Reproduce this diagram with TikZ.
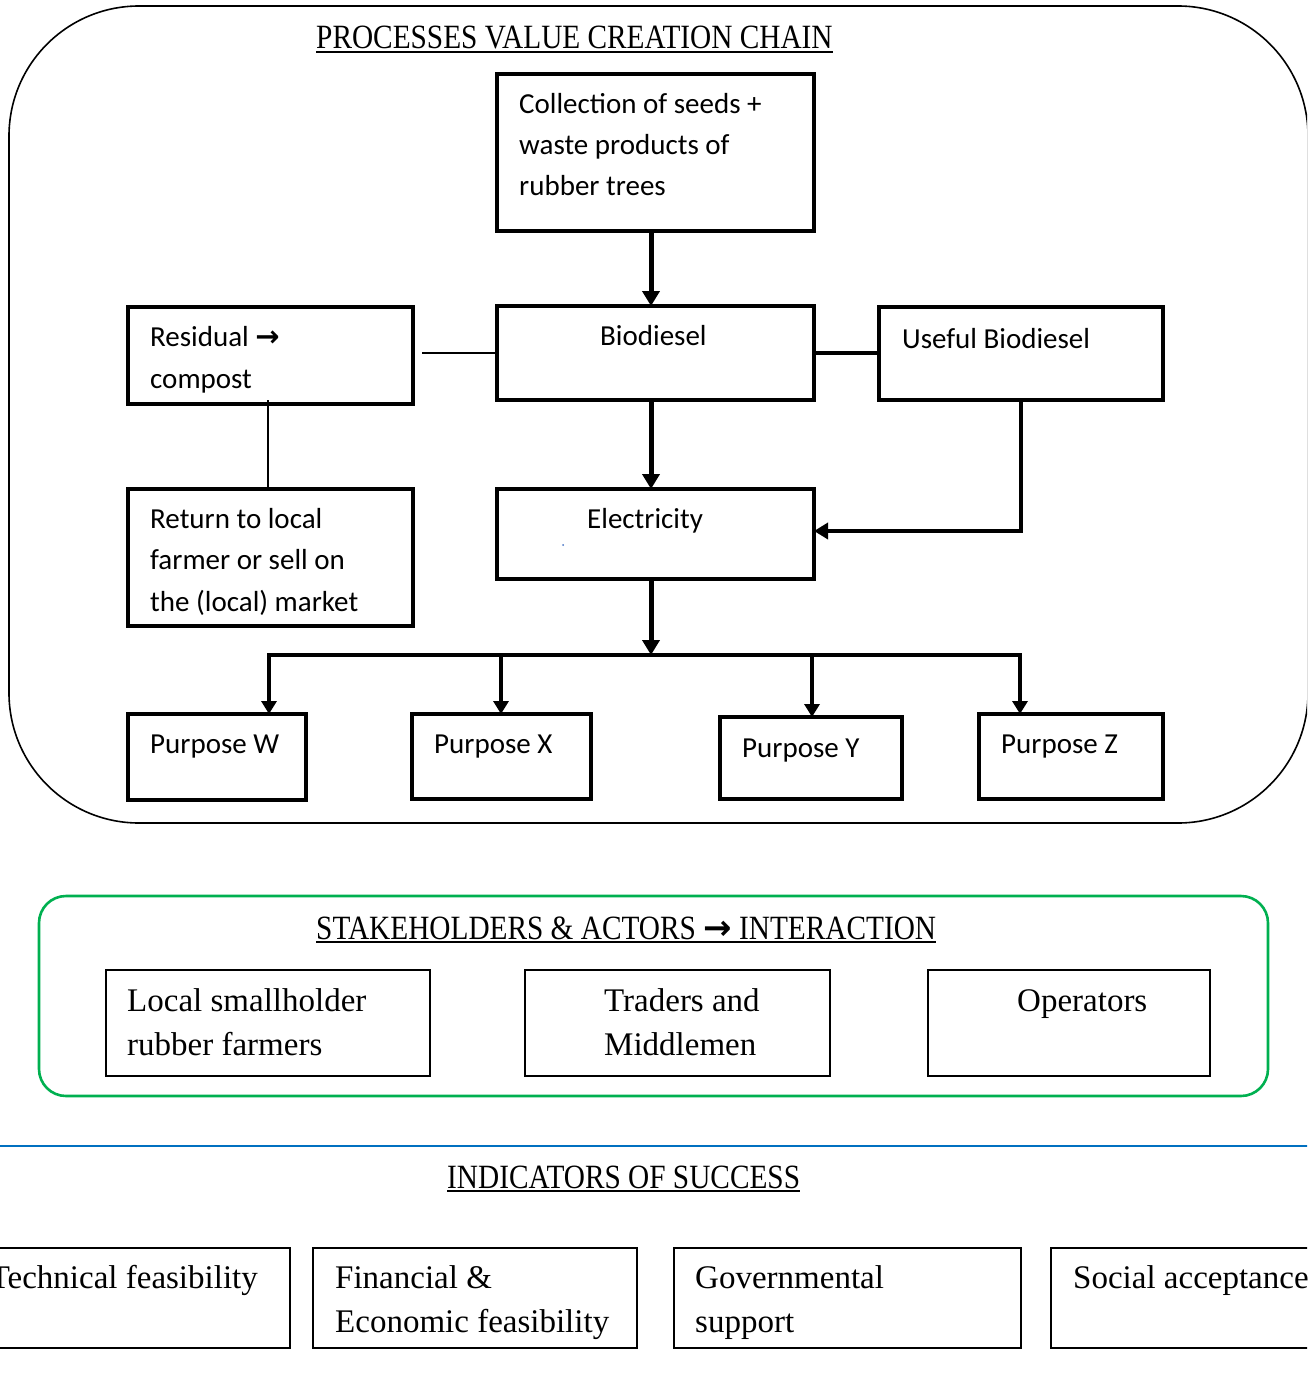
\documentclass[tikz,border=0pt]{standalone}
\usepackage{fontspec}
\setmainfont{Liberation Serif}
\newfontfamily\calfont{Carlito}
\newfontfamily\headfont{Liberation Serif}[FakeStretch=0.862]
\newfontfamily\symfont{DejaVu Sans}
\usetikzlibrary{arrows.meta}
\definecolor{framegreen}{RGB}{0,176,80}
\definecolor{ruleblue}{RGB}{0,112,192}
\definecolor{dotblue}{RGB}{68,114,196}

\begin{document}
\begin{tikzpicture}[x=1pt,y=-1pt,
  flowbox/.style={draw, line width=3.5pt, inner sep=0pt, outer sep=0pt, anchor=north west},
  plainbox/.style={draw, line width=2pt, inner sep=0pt, outer sep=0pt, anchor=north west},
  % multi-line texts are placed by the baseline of their last line
  flowtext/.style={inner sep=0pt, anchor=base west, align=left,
    font=\calfont\fontsize{29}{41.3}\selectfont},
  boxtext/.style={inner sep=0pt, anchor=base west, align=left,
    font=\fontsize{33}{44}\selectfont},
  headtext/.style={inner sep=0pt, anchor=base west,
    font=\headfont\fontsize{34}{40}\selectfont},
  uline/.style={line width=1.8pt},
  mainflow/.style={line width=5pt, -{Triangle[length=15pt,width=17pt]}},
  fanout/.style={line width=4pt, -{Triangle[length=13pt,width=15pt]}},
  sidefeed/.style={line width=3.5pt, -{Triangle[length=14pt,width=16pt]}},
]
\useasboundingbox (0,0) rectangle (1307,1383);
\clip (0,0) rectangle (1307,1383);

% ---------- value creation chain ----------
\node[draw, line width=1.6pt, rounded corners=130pt, inner sep=0pt, outer sep=0pt, anchor=north west,
      minimum width=1299pt, minimum height=817pt] (chain) at (9,6) {};
\node[headtext] (t1) at (316,49) {PROCESSES VALUE CREATION CHAIN};
\draw[uline] ([yshift=-3pt]t1.base west) -- ([yshift=-3pt]t1.base east);

\node[flowbox, minimum width=317pt, minimum height=157pt] (coll) at (497,74) {};
\node[flowbox, minimum width=317pt, minimum height=94pt] (bio) at (497,306) {};
\node[flowbox, minimum width=285pt, minimum height=97pt] (res) at (128,307) {};
\node[flowbox, minimum width=284pt, minimum height=93pt] (useful) at (879,307) {};
\node[flowbox, minimum width=285pt, minimum height=137pt] (ret) at (128,489) {};
\node[flowbox, minimum width=317pt, minimum height=90pt] (elec) at (497,489) {};
\node[flowbox, minimum width=178pt, minimum height=86pt] (pw) at (128,714) {};
\node[flowbox, minimum width=179pt, minimum height=85pt] (px) at (412,714) {};
\node[flowbox, minimum width=182pt, minimum height=82pt] (py) at (720,717) {};
\node[flowbox, minimum width=184pt, minimum height=85pt] (pz) at (979,714) {};

\node[flowtext] (coll-t) at (519,196) {Collection of seeds +\\waste products of\\rubber trees};
\node[flowtext] (bio-t) at (600,345) {Biodiesel};
\node[flowtext] (res-t) at (150,388) {Residual {\symfont\bfseries →}\\compost};
\node[flowtext] (useful-t) at (902,348) {Useful Biodiesel};
\node[flowtext] (ret-t) at (150,611) {Return to local\\farmer or sell on\\the (local) market};
\node[flowtext] (elec-t) at (587,528) {Electricity};
\node[flowtext] (pw-t) at (150,753) {Purpose W};
\node[flowtext] (px-t) at (434,753) {Purpose X};
\node[flowtext] (py-t) at (742,757) {Purpose Y};
\node[flowtext] (pz-t) at (1001,753) {Purpose Z};
\fill[dotblue] (563,545) circle (1pt);

% connectors
\coordinate (bus) at (651,655);
\coordinate (wdrop) at (269,655);
\coordinate (xdrop) at (501,655);
\coordinate (ydrop) at (812,655);
\coordinate (zdrop) at (1020,655);
\coordinate (resgap) at (422,353);

\draw[mainflow] (coll.south -| bus) -- (bio.north -| bus);
\draw[mainflow] (bio.south -| bus) -- (elec.north -| bus);
\draw[mainflow] (elec.south -| bus) -- (bus);
\draw[line width=3.5pt] (bio.east) -- (useful.west |- bio.east);
\draw[line width=2.5pt] (resgap) -- (bio.west);
\draw[line width=2pt] ([xshift=-2.5pt,yshift=4pt]res.south) -- ([xshift=-2.5pt]ret.north);
\draw[sidefeed] (useful.south) |- ([yshift=3pt]elec.east);
\draw[fanout] (bus) -- (wdrop) -- (wdrop |- pw.north);
\draw[fanout] (bus) -- (zdrop) -- (zdrop |- pz.north);
\draw[fanout] (xdrop) -- (xdrop |- px.north);
\draw[fanout] (ydrop) -- (ydrop |- py.north);

% ---------- stakeholders ----------
\node[draw=framegreen, line width=2.6pt, rounded corners=27pt, inner sep=0pt, outer sep=0pt, anchor=north west,
      minimum width=1229pt, minimum height=200pt] (stake) at (39,896) {};
\node[headtext] (t2) at (316,939) {STAKEHOLDERS \& ACTORS {\symfont\bfseries →} INTERACTION};
\draw[uline] ([yshift=-3pt]t2.base west) -- ([yshift=-3pt]t2.base east);

\node[plainbox, minimum width=324pt, minimum height=106pt] (farm) at (106,970) {};
\node[plainbox, minimum width=305pt, minimum height=106pt] (trade) at (525,970) {};
\node[plainbox, minimum width=282pt, minimum height=106pt] (oper) at (928,970) {};
\node[boxtext] (farm-t) at (127,1055) {Local smallholder\\rubber farmers};
\node[boxtext] (trade-t) at (604,1055) {Traders and\\Middlemen};
\node[boxtext] (oper-t) at (1017,1011) {Operators};

% ---------- indicators ----------
\draw[ruleblue, line width=2.5pt] (-5,1146) -- (1312,1146);
\node[headtext] (t3) at (447,1188) {INDICATORS OF SUCCESS};
\draw[uline] ([yshift=-3pt]t3.base west) -- ([yshift=-3pt]t3.base east);

\node[plainbox, minimum width=330pt, minimum height=100pt] (tech) at (-40,1248) {};
\node[plainbox, minimum width=324pt, minimum height=100pt] (fin) at (313,1248) {};
\node[plainbox, minimum width=347pt, minimum height=100pt] (gov) at (674,1248) {};
\node[plainbox, minimum width=320pt, minimum height=100pt] (soc) at (1051,1248) {};
\node[boxtext, anchor=base east] (tech-t) at (258,1288) {Technical feasibility};
\node[boxtext] (fin-t) at (335,1332) {Financial \&\\Economic feasibility};
\node[boxtext] (gov-t) at (695,1332) {Governmental\\support};
\node[boxtext] (soc-t) at (1073,1288) {Social acceptance};
\end{tikzpicture}
\end{document}
